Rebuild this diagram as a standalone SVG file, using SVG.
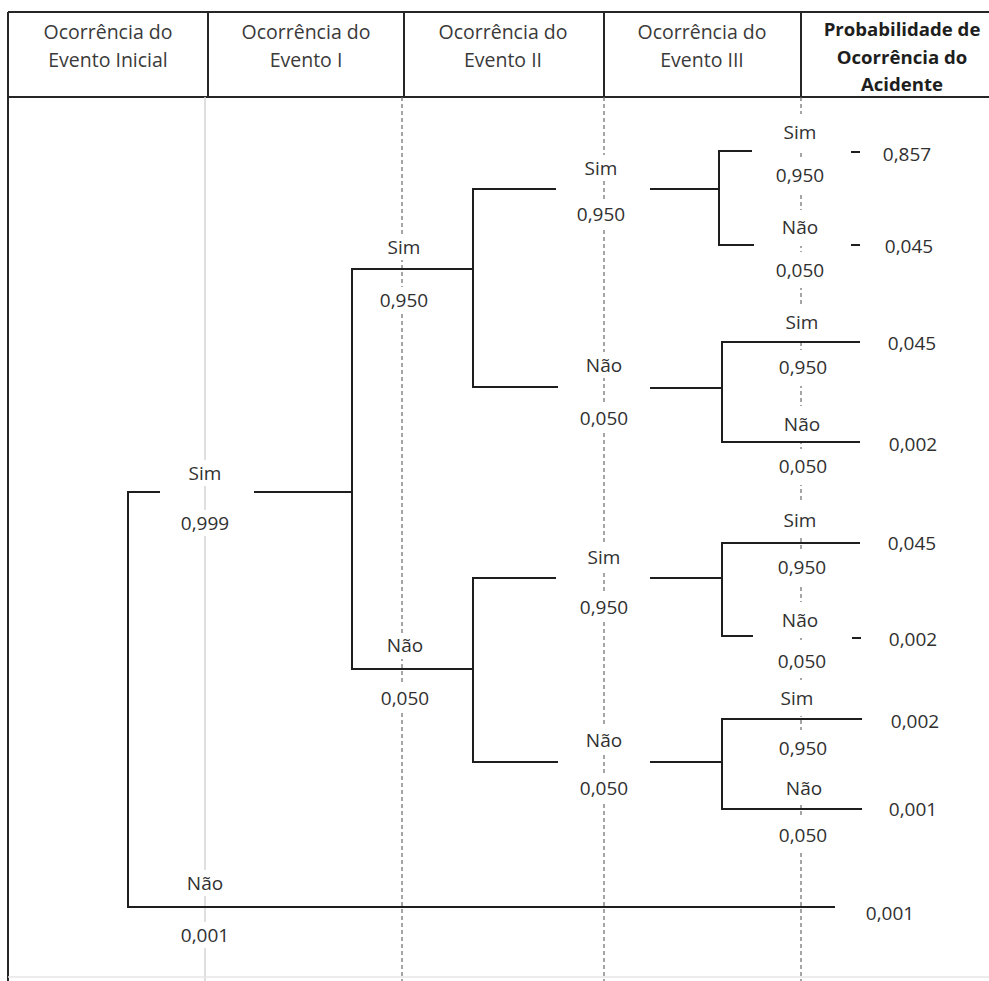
<svg xmlns="http://www.w3.org/2000/svg" width="989" height="981" viewBox="0 0 989 981">
  <style>
    .frame { stroke: #262626; stroke-width: 2; fill: none; }
    .guide { stroke: #6a6a6a; stroke-width: 1.2; stroke-dasharray: 4 3; fill: none; }
    .guide-soft { stroke: #d4d4d4; stroke-width: 1.5; fill: none; }
    .branch { stroke: #1e1e1e; stroke-width: 2; fill: none; stroke-linecap: square; }
    .bg { fill: #ffffff; }
    .hd { font-family: "Open Sans", "Liberation Sans", sans-serif; font-size: 19.5px; fill: #3a3a3a; text-anchor: middle; }
    .hdb { font-family: "Open Sans", "Liberation Sans", sans-serif; font-size: 18.6px; font-weight: bold; fill: #1e1e1e; text-anchor: middle; }
    .lbl { font-family: "Open Sans", "Liberation Sans", sans-serif; font-size: 19px; fill: #303030; text-anchor: middle; }
    .res { font-family: "Open Sans", "Liberation Sans", sans-serif; font-size: 19px; fill: #303030; text-anchor: middle; }
  </style>

  <rect width="989" height="981" fill="#ffffff"/>

  <!-- header table -->
  <g id="header">
    <path class="frame" d="M8,12 H989 M8,97 H989 M8,12 V981 M208,12 V97 M404,12 V97 M604,12 V97 M801,12 V97"/>
    <g id="col-inicial">
      <text class="hd" x="108" y="39">Ocorrência do</text>
      <text class="hd" x="108" y="67">Evento Inicial</text>
    </g>
    <g id="col-evento1">
      <text class="hd" x="306" y="39">Ocorrência do</text>
      <text class="hd" x="306" y="67">Evento I</text>
    </g>
    <g id="col-evento2">
      <text class="hd" x="503" y="39">Ocorrência do</text>
      <text class="hd" x="503" y="67">Evento II</text>
    </g>
    <g id="col-evento3">
      <text class="hd" x="702" y="39">Ocorrência do</text>
      <text class="hd" x="702" y="67">Evento III</text>
    </g>
    <g id="col-prob">
      <text class="hdb" x="902" y="36">Probabilidade de</text>
      <text class="hdb" x="902" y="64">Ocorrência do</text>
      <text class="hdb" x="902" y="91">Acidente</text>
    </g>
  </g>

  <!-- column guides -->
  <g id="guides">
    <path class="guide-soft" d="M205,97 V981"/>
    <path class="guide" d="M402,97 V981 M604,97 V981 M801,97 V981"/>
    <path d="M8,977 H989" stroke="#e6e6e6" stroke-width="1.5"/>
  </g>

  <!-- label backgrounds (interrupt the guides) -->
  <g id="label-bg" class="bg">
    <rect x="180" y="460" width="50" height="26"/>
    <rect x="174" y="510" width="62" height="26"/>
    <rect x="180" y="870" width="50" height="26"/>
    <rect x="174" y="922" width="62" height="26"/>

    <rect x="379" y="234" width="50" height="26"/>
    <rect x="373" y="287" width="62" height="26"/>
    <rect x="380" y="633" width="50" height="26"/>
    <rect x="374" y="685" width="62" height="26"/>

    <rect x="576" y="155" width="50" height="26"/>
    <rect x="570" y="201" width="62" height="26"/>
    <rect x="579" y="352" width="50" height="26"/>
    <rect x="573" y="405" width="62" height="26"/>
    <rect x="579" y="544" width="50" height="26"/>
    <rect x="573" y="594" width="62" height="26"/>
    <rect x="579" y="727" width="50" height="26"/>
    <rect x="573" y="775" width="62" height="26"/>

    <rect x="770" y="114" width="62" height="36"/>
    <rect x="770" y="157" width="62" height="36"/>
    <rect x="770" y="210" width="62" height="36"/>
    <rect x="770" y="252" width="62" height="36"/>
    <rect x="770" y="304" width="62" height="36"/>
    <rect x="770" y="350" width="62" height="36"/>
    <rect x="770" y="406" width="62" height="36"/>
    <rect x="770" y="449" width="62" height="36"/>
    <rect x="770" y="502" width="62" height="36"/>
    <rect x="770" y="549" width="62" height="36"/>
    <rect x="770" y="602" width="62" height="36"/>
    <rect x="770" y="642" width="62" height="36"/>
    <rect x="770" y="680" width="62" height="36"/>
    <rect x="770" y="730" width="62" height="36"/>
    <rect x="770" y="769" width="62" height="36"/>
    <rect x="770" y="817" width="62" height="36"/>
  </g>

  <!-- branch connectors -->
  <g id="connectors" class="branch">
    <!-- initial event -->
    <path d="M128,492 V907 M128,492 H159 M255,492 H352 M128,907 H834"/>
    <!-- event I -->
    <path d="M352,269 V669 M352,269 H473 M352,669 H473"/>
    <!-- event II, upper -->
    <path d="M473,189 V387 M473,189 H555 M651,189 H719 M473,387 H557 M651,388 H722"/>
    <!-- event II, lower -->
    <path d="M473,578 V762 M473,578 H555 M651,578 H722 M473,762 H557 M651,762 H722"/>
    <!-- event III -->
    <path d="M719,151 V245 M719,151 H751 M719,245 H753 M852,152 H859 M852,245 H859"/>
    <path d="M722,342 V442 M722,342 H859 M722,442 H859"/>
    <path d="M722,543 V636 M722,543 H859 M722,636 H752 M853,638 H860"/>
    <path d="M722,719 V809 M722,719 H861 M722,809 H861"/>
  </g>

  <!-- initial event -->
  <g id="ini-sim"><text class="lbl" x="205" y="480">Sim</text><text class="lbl" x="205" y="530">0,999</text></g>
  <g id="ini-nao"><text class="lbl" x="205" y="890">Não</text><text class="lbl" x="205" y="942">0,001</text></g>

  <!-- event I -->
  <g id="e1-sim"><text class="lbl" x="404" y="254">Sim</text><text class="lbl" x="404" y="307">0,950</text></g>
  <g id="e1-nao"><text class="lbl" x="405" y="652">Não</text><text class="lbl" x="405" y="705">0,050</text></g>

  <!-- event II -->
  <g id="e2-sim-a"><text class="lbl" x="601" y="175">Sim</text><text class="lbl" x="601" y="221">0,950</text></g>
  <g id="e2-nao-a"><text class="lbl" x="604" y="372">Não</text><text class="lbl" x="604" y="425">0,050</text></g>
  <g id="e2-sim-b"><text class="lbl" x="604" y="564">Sim</text><text class="lbl" x="604" y="614">0,950</text></g>
  <g id="e2-nao-b"><text class="lbl" x="604" y="747">Não</text><text class="lbl" x="604" y="795">0,050</text></g>

  <!-- event III -->
  <g id="e3-sim-a"><text class="lbl" x="800" y="139">Sim</text><text class="lbl" x="800" y="182">0,950</text></g>
  <g id="e3-nao-a"><text class="lbl" x="800" y="234">Não</text><text class="lbl" x="800" y="277">0,050</text></g>
  <g id="e3-sim-b"><text class="lbl" x="802" y="329">Sim</text><text class="lbl" x="803" y="374">0,950</text></g>
  <g id="e3-nao-b"><text class="lbl" x="802" y="431">Não</text><text class="lbl" x="803" y="473">0,050</text></g>
  <g id="e3-sim-c"><text class="lbl" x="800" y="527">Sim</text><text class="lbl" x="802" y="574">0,950</text></g>
  <g id="e3-nao-c"><text class="lbl" x="800" y="627">Não</text><text class="lbl" x="802" y="668">0,050</text></g>
  <g id="e3-sim-d"><text class="lbl" x="797" y="705">Sim</text><text class="lbl" x="803" y="755">0,950</text></g>
  <g id="e3-nao-d"><text class="lbl" x="804" y="795">Não</text><text class="lbl" x="803" y="842">0,050</text></g>

  <!-- accident probabilities -->
  <g id="prob-1"><text class="res" x="907" y="161">0,857</text></g>
  <g id="prob-2"><text class="res" x="909" y="253">0,045</text></g>
  <g id="prob-3"><text class="res" x="912" y="350">0,045</text></g>
  <g id="prob-4"><text class="res" x="913" y="451">0,002</text></g>
  <g id="prob-5"><text class="res" x="912" y="550">0,045</text></g>
  <g id="prob-6"><text class="res" x="913" y="646">0,002</text></g>
  <g id="prob-7"><text class="res" x="915" y="728">0,002</text></g>
  <g id="prob-8"><text class="res" x="913" y="816">0,001</text></g>
  <g id="prob-9"><text class="res" x="890" y="920">0,001</text></g>
</svg>
